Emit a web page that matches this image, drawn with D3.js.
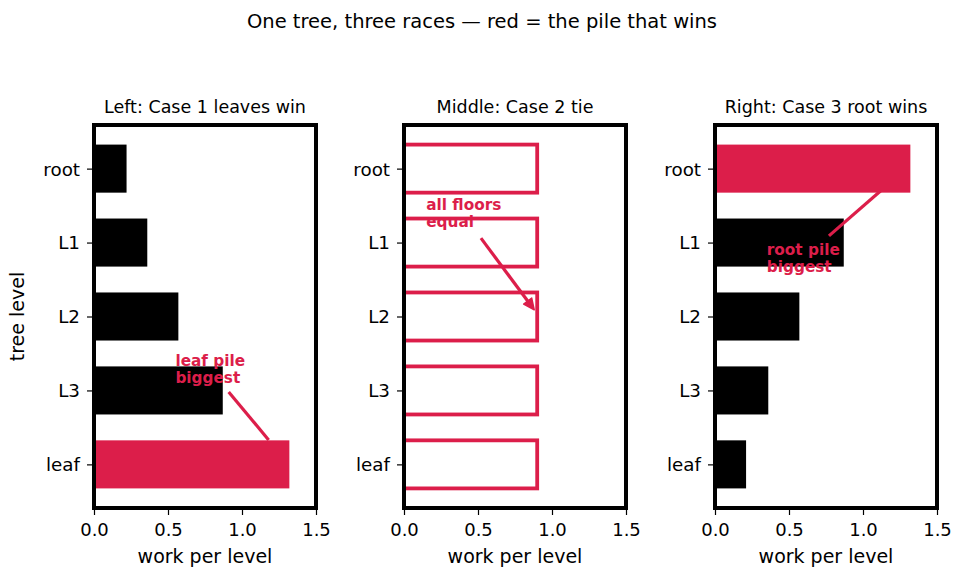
<!DOCTYPE html>
<html>
<head>
<meta charset="utf-8">
<script src="https://cdn.jsdelivr.net/npm/d3@7"></script>
<style>
  body { margin: 0; background: #fff; }
  svg text { font-family: "DejaVu Sans", sans-serif; }
</style>
</head>
<body>
<svg id="chart" width="965" height="582"></svg>
<script>
// tree levels, top to bottom
const levels = ["root", "L1", "L2", "L3", "leaf"];
// work per level for each race
const case1 = [0.22, 0.36, 0.57, 0.87, 1.32];
const case2 = [0.9, 0.9, 0.9, 0.9, 0.9];
const case3 = [1.32, 0.87, 0.57, 0.36, 0.21];
const titles = ["Left: Case 1 leaves win", "Middle: Case 2 tie", "Right: Case 3 root wins"];
const xTicks = [0, 0.5, 1.0, 1.5];

const red = "#dc1e4a";
const svg = d3.select("#chart");

// suptitle
svg.append("text")
    .attr("x", 482)
    .attr("y", 28)
    .attr("text-anchor", "middle")
    .style("font-size", "19.5px")
    .text("One tree, three races \u2014 red = the pile that wins");

const panelLeft = [94, 404, 715];
const pw = 222, plotTop = 125, plotBottom = 508;

const panels = [
    { values: case1, win: "leaf", note: ["leaf pile", "biggest"], nx: 0.55, ny: 2.67,
      from: [0.91, 3.02], to: [1.18, 3.67], head: false },
    { values: case2, win: "all", note: ["all floors", "equal"], nx: 0.15, ny: 0.56,
      from: [0.52, 0.94], to: [0.88, 1.91], head: true },
    { values: case3, win: "root", note: ["root pile", "biggest"], nx: 0.35, ny: 1.17,
      from: [0.77, 0.91], to: [1.12, 0.3], head: false }
];

panels.forEach((p, k) => {
    const g = svg.append("g").attr("transform", `translate(${panelLeft[k]}, 0)`);

    const x = d3.scaleLinear().domain([0, 1.5]).range([0, pw]);
    const y = d3.scaleLinear().domain([-0.59, 4.59]).range([plotTop, plotBottom]);
    const bh = (y(0.65) - y(0));

    // subplot title
    g.append("text")
        .attr("x", pw / 2)
        .attr("y", 113)
        .attr("text-anchor", "middle")
        .style("font-size", "17.5px")
        .text(titles[k]);

    const drawNote = () => {
        const t = g.append("text")
            .attr("x", x(p.nx))
            .attr("y", y(p.ny))
            .style("font-size", "15.3px")
            .style("font-weight", "bold")
            .style("fill", red);
        p.note.forEach((line, i) => {
            t.append("tspan")
                .attr("x", x(p.nx))
                .attr("dy", i === 0 ? 0 : 16.5)
                .text(line);
        });
    };

    const drawArrow = () => {
        const x1 = x(p.from[0]), y1 = y(p.from[1]);
        const x2 = x(p.to[0]), y2 = y(p.to[1]);
        const ang = Math.atan2(y2 - y1, x2 - x1);
        const hl = 11, hw = 5;
        const bx = x2 - hl * Math.cos(ang), by = y2 - hl * Math.sin(ang);
        g.append("line")
            .attr("x1", x1).attr("y1", y1)
            .attr("x2", p.head ? bx : x2).attr("y2", p.head ? by : y2)
            .attr("stroke", red)
            .attr("stroke-width", 3.2);
        if (p.head) {
            const px = -Math.sin(ang), py = Math.cos(ang);
            g.append("path")
                .attr("d", `M${x2},${y2}L${bx + px * hw},${by + py * hw}L${bx - px * hw},${by - py * hw}Z`)
                .attr("fill", red)
                .attr("stroke", red)
                .attr("stroke-width", 1.5)
                .attr("stroke-linejoin", "round");
        }
    };

    const drawBars = () => {
        g.selectAll(null)
            .data(p.values)
            .enter()
            .append("rect")
            .attr("x", x(0))
            .attr("y", (d, i) => y(i) - bh / 2)
            .attr("width", d => x(d) - x(0))
            .attr("height", bh)
            .attr("fill", (d, i) => p.win === "all" ? "none" : (levels[i] === p.win ? red : "#000"))
            .attr("stroke", p.win === "all" ? red : "none")
            .attr("stroke-width", 3.8);
    };

    if (p.win === "all") {
        drawNote();
        drawBars();
        drawArrow();
    } else {
        drawBars();
        drawArrow();
        drawNote();
    }

    // axes
    const xa = g.append("g")
        .attr("transform", `translate(0, ${plotBottom})`)
        .call(d3.axisBottom(x).tickValues(xTicks).tickFormat(d3.format(".1f")).tickSize(7).tickPadding(8));
    xa.select(".domain").remove();
    xa.selectAll("line").attr("stroke-width", 1.2);
    xa.selectAll("text").style("font-size", "18px").attr("fill", "#000");

    const ya = g.append("g")
        .call(d3.axisLeft(y).tickValues(d3.range(levels.length)).tickFormat(i => levels[i]).tickSize(7).tickPadding(7));
    ya.select(".domain").remove();
    ya.selectAll("line").attr("stroke-width", 1.2);
    ya.selectAll("text").style("font-size", "18.3px").attr("fill", "#000").attr("dy", "0.35em");

    // frame
    g.append("rect")
        .attr("x", 0).attr("y", plotTop)
        .attr("width", pw).attr("height", plotBottom - plotTop)
        .attr("fill", "none")
        .attr("stroke", "#000")
        .attr("stroke-width", 4);

    g.append("text")
        .attr("x", pw / 2)
        .attr("y", 563)
        .attr("text-anchor", "middle")
        .style("font-size", "19px")
        .text("work per level");

    if (k === 0) {
        g.append("text")
            .attr("transform", `translate(-70, ${(plotTop + plotBottom) / 2}) rotate(-90)`)
            .attr("text-anchor", "middle")
            .style("font-size", "19px")
            .text("tree level");
    }
});
</script>
</body>
</html>
